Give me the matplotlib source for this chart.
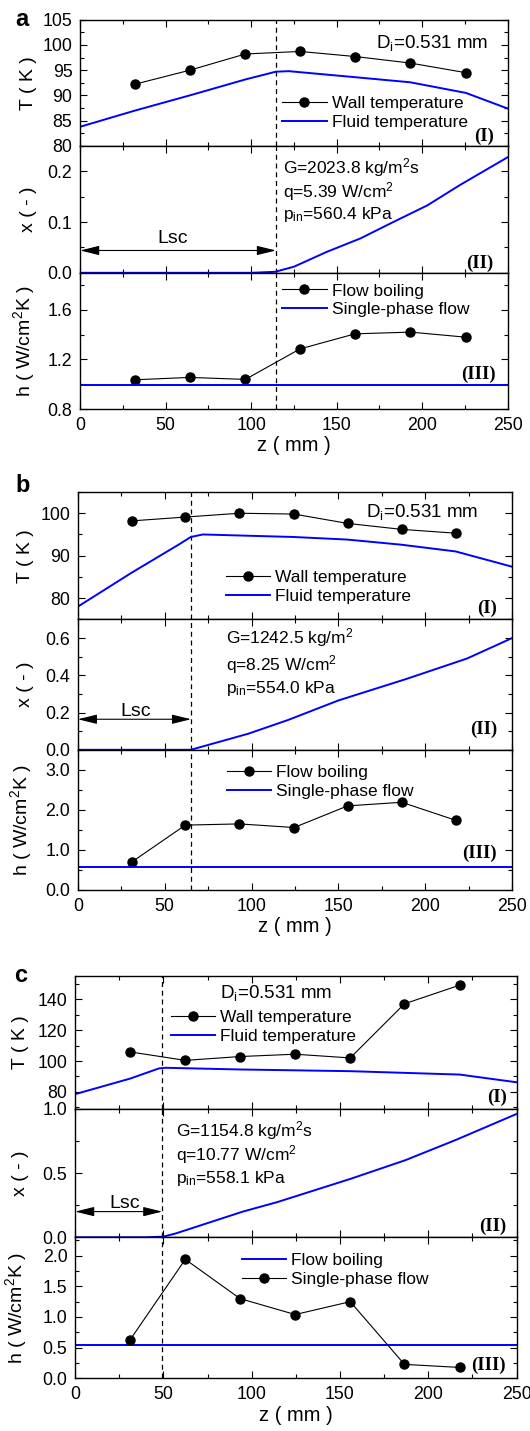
import numpy as np
import matplotlib
matplotlib.use('Agg')
import matplotlib.pyplot as plt
from matplotlib.ticker import MultipleLocator

plt.rcParams['font.family'] = ['Liberation Sans', 'DejaVu Sans']
plt.rcParams['mathtext.fontset'] = 'custom'
plt.rcParams['mathtext.rm'] = 'Liberation Sans'
plt.rcParams['mathtext.it'] = 'Liberation Sans:italic'
plt.rcParams['mathtext.default'] = 'regular'

# ---- case a ----
z_a = [31.8, 64.2, 96.6, 128.5, 160.7, 193.1, 225.5]
tw_a = [92.2, 95.0, 98.2, 98.7, 97.7, 96.4, 94.5]
zf_a = [0, 32, 64, 97, 114.5, 122, 161, 193, 225.5, 250]
tf_a = [83.8, 87.0, 90.0, 93.2, 94.7, 94.8, 93.6, 92.6, 90.5, 87.4]
zx_a = [0, 100, 114, 125, 144, 164, 183, 203, 222, 250]
x_a = [0, 0, 0.002, 0.012, 0.041, 0.068, 0.100, 0.133, 0.173, 0.228]
h_a = [1.036, 1.055, 1.039, 1.285, 1.407, 1.421, 1.380]
hsp_a = 0.995
lsc_a = 114.5

# ---- case b ----
z_b = [31.1, 61.9, 93.0, 124.5, 155.3, 186.4, 217.5]
tw_b = [98.2, 99.1, 100.0, 99.8, 97.6, 96.2, 95.3]
zf_b = [0, 31, 58, 65, 72, 124.5, 155, 186, 217.5, 250]
tf_b = [78.0, 86.0, 92.6, 94.4, 95.0, 94.4, 93.8, 92.6, 91.0, 87.4]
zx_b = [0, 65, 98, 121, 150, 189, 224, 250]
x_b = [0, 0, 0.086, 0.16, 0.265, 0.38, 0.49, 0.6]
h_b = [0.70, 1.62, 1.65, 1.56, 2.10, 2.19, 1.74]
hsp_b = 0.573
lsc_b = 65.2

# ---- case c ----
z_c = [31.2, 62.4, 93.4, 124.6, 155.8, 186.5, 217.8]
tw_c = [105.9, 100.4, 102.9, 104.4, 102.0, 137.1, 149.2]
zf_c = [0, 31.2, 47.5, 51.3, 93.4, 155.8, 217.8, 250]
tf_c = [78.5, 88.6, 95.2, 95.6, 94.5, 93.4, 91.2, 86.2]
zx_c = [0, 40, 50, 57, 95, 114.5, 156, 187, 216, 250]
x_c = [0, 0, 0.005, 0.03, 0.20, 0.274, 0.455, 0.60, 0.76, 0.96]
h_c = [0.63, 1.94, 1.30, 1.04, 1.25, 0.227, 0.177]
hsp_c = 0.536
lsc_c = 49.4

W, H = 530, 1431
FS = 12.8
TXT = 12.5
BLUE = '#0000ff'


def make_axes(fig, left, right, ys, ylab_x):
    # ys: pixel rows of top, I/II, II/III, bottom
    axs = []
    for top, bot in zip(ys[:-1], ys[1:]):
        ax = fig.add_axes([left / W, 1 - bot / H, (right - left) / W, (bot - top) / H])
        ax.set_xlim(0, 250)
        ax.xaxis.set_major_locator(MultipleLocator(50))
        ax.xaxis.set_minor_locator(MultipleLocator(25))
        ax.tick_params(which='both', direction='in', top=True, right=True,
                       labelsize=FS, width=0.8, pad=5.5)
        ax.tick_params(which='major', length=5)
        ax.tick_params(which='minor', length=2.8)
        for s in ax.spines.values():
            s.set_linewidth(1.0)
        axs.append(ax)
    for ax in axs[:-1]:
        ax.tick_params(labelbottom=False)
    axs[-1].set_xlabel('z ( mm )', fontsize=14.5, labelpad=2)
    axs[0].set_ylabel('T ( K )', fontsize=14)
    axs[1].set_ylabel('x ( - )', fontsize=14)
    axs[2].set_ylabel('h ( W/cm$^2$K )', fontsize=14)
    for ax in axs:
        ax.yaxis.set_label_coords(ylab_x, 0.5)
    return axs


def roman(ax, s, x, y):
    ax.text(x, y, s, transform=ax.transAxes, ha='right', va='center',
            fontsize=13.5, fontweight='bold', family='Liberation Serif')


def leg(ax, z0, y0):
    ax.legend(loc='center left', bbox_to_anchor=(z0, y0), bbox_transform=ax.transData,
              frameon=False, fontsize=TXT, borderpad=0, borderaxespad=0,
              handlelength=2.55, handletextpad=0.3, labelspacing=0.22, numpoints=1)


def lsc_arrow(ax, lsc, ya, yt, zt):
    ax.annotate('', xy=(0, ya), xytext=(lsc, ya),
                arrowprops=dict(arrowstyle='<|-|>,head_length=0.9,head_width=0.22',
                                color='black', lw=0.8, shrinkA=0, shrinkB=0,
                                mutation_scale=13))
    ax.text(zt, yt, 'Lsc', ha='center', va='center', fontsize=14)


def dashed(axs, lsc):
    for ax in axs:
        ax.axvline(lsc, color='black', lw=0.9, ls=(0, (4, 3)))


def wall(ax, z, t, label):
    ax.plot(z, t, color='black', lw=0.8, marker='o', ms=6.5, label=label)


def line(ax, z, y, label=None):
    ax.plot(z, y, color=BLUE, lw=1.4, label=label)


def params(ax, zt, ys, lines, ha='left'):
    for y, s in zip(ys, lines):
        ax.text(zt, y, s, ha=ha, va='center', fontsize=TXT)


def case_a(fig):
    a1, a2, a3 = make_axes(fig, 80.1, 507.8, [19.6, 146.0, 272.8, 409.0], -0.1)
    dashed([a1, a2, a3], lsc_a)

    wall(a1, z_a, tw_a, 'Wall temperature')
    line(a1, zf_a, tf_a, 'Fluid temperature')
    a1.set_ylim(80, 105)
    a1.yaxis.set_major_locator(MultipleLocator(5))
    a1.yaxis.set_minor_locator(MultipleLocator(2.5))
    leg(a1, 118.2, 86.5)
    a1.text(238.7, 100.3, 'D$_{i}$=0.531 mm', ha='right', va='center', fontsize=13.5)
    roman(a1, '(I)', 0.968, 0.075)

    line(a2, zx_a, x_a)
    a2.set_ylim(0, 0.25)
    a2.yaxis.set_major_locator(MultipleLocator(0.1))
    a2.yaxis.set_minor_locator(MultipleLocator(0.05))
    a2.yaxis.set_major_formatter('{x:.1f}')
    params(a2, 118.8, [0.207, 0.160, 0.115],
           ['G=2023.8 kg/m$^2$s', 'q=5.39 W/cm$^2$', 'p$_{in}$=560.4 kPa'])
    lsc_arrow(a2, lsc_a, 0.044, 0.067, 54)
    roman(a2, '(II)', 0.966, 0.078)

    wall(a3, z_a, h_a, 'Flow boiling')
    a3.axhline(hsp_a, color=BLUE, lw=1.4, label='Single-phase flow')
    a3.set_ylim(0.8, 1.9)
    a3.yaxis.set_major_locator(MultipleLocator(0.4))
    a3.yaxis.set_minor_locator(MultipleLocator(0.2))
    leg(a3, 118.2, 1.677)
    roman(a3, '(III)', 0.971, 0.255)

    fig.text(22 / W, 1 - 19 / H, 'a', fontsize=17, fontweight='bold', ha='center', va='center')


def case_b(fig):
    b1, b2, b3 = make_axes(fig, 77.8, 512.2, [492.0, 619.4, 749.8, 890.0], -0.1)
    dashed([b1, b2, b3], lsc_b)

    wall(b1, z_b, tw_b, 'Wall temperature')
    line(b1, zf_b, tf_b, 'Fluid temperature')
    b1.set_ylim(75, 105)
    b1.yaxis.set_major_locator(MultipleLocator(10))
    b1.yaxis.set_minor_locator(MultipleLocator(5))
    leg(b1, 85.2, 82.7)
    b1.text(230.5, 100.2, 'D$_{i}$=0.531 mm', ha='right', va='center', fontsize=13.5)
    roman(b1, '(I)', 0.965, 0.085)

    line(b2, zx_b, x_b)
    b2.set_ylim(0, 0.7)
    b2.yaxis.set_major_locator(MultipleLocator(0.2))
    b2.yaxis.set_minor_locator(MultipleLocator(0.1))
    b2.yaxis.set_major_formatter('{x:.1f}')
    params(b2, 85.2, [0.6, 0.456, 0.331],
           ['G=1242.5 kg/m$^2$', 'q=8.25 W/cm$^2$', 'p$_{in}$=554.0 kPa'])
    lsc_arrow(b2, lsc_b, 0.164, 0.205, 33)
    roman(b2, '(II)', 0.965, 0.16)

    wall(b3, z_b, h_b, 'Flow boiling')
    b3.axhline(hsp_b, color=BLUE, lw=1.4, label='Single-phase flow')
    b3.set_ylim(0, 3.5)
    b3.yaxis.set_major_locator(MultipleLocator(1.0))
    b3.yaxis.set_minor_locator(MultipleLocator(0.5))
    b3.yaxis.set_major_formatter('{x:.1f}')
    leg(b3, 85.6, 2.69)
    roman(b3, '(III)', 0.965, 0.26)

    fig.text(23 / W, 1 - 486 / H, 'b', fontsize=17, fontweight='bold', ha='center', va='center')


def case_c(fig):
    c1, c2, c3 = make_axes(fig, 75.1, 516.6, [976.2, 1108.8, 1237.3, 1378.3], -0.105)
    dashed([c1, c2, c3], lsc_c)

    wall(c1, z_c, tw_c, 'Wall temperature')
    line(c1, zf_c, tf_c, 'Fluid temperature')
    c1.set_ylim(69, 155)
    c1.yaxis.set_major_locator(MultipleLocator(20))
    c1.yaxis.set_minor_locator(MultipleLocator(10))
    leg(c1, 54.2, 122.3)
    c1.text(81.9, 144, 'D$_{i}$=0.531 mm', ha='left', va='center', fontsize=13.5)
    roman(c1, '(I)', 0.979, 0.09)

    line(c2, zx_c, x_c)
    c2.set_ylim(0, 1.0)
    c2.yaxis.set_major_locator(MultipleLocator(0.5))
    c2.yaxis.set_minor_locator(MultipleLocator(0.25))
    c2.yaxis.set_major_formatter('{x:.1f}')
    params(c2, 57, [0.827, 0.641, 0.455],
           ['G=1154.8 kg/m$^2$s', 'q=10.77 W/cm$^2$', 'p$_{in}$=558.1 kPa'])
    lsc_arrow(c2, lsc_c, 0.2, 0.266, 28.3)
    roman(c2, '(II)', 0.976, 0.084)

    line(c3, [0, 250], [hsp_c, hsp_c], 'Flow boiling')
    wall(c3, z_c, h_c, 'Single-phase flow')
    c3.set_ylim(0, 2.3)
    c3.yaxis.set_major_locator(MultipleLocator(0.5))
    c3.yaxis.set_minor_locator(MultipleLocator(0.25))
    c3.yaxis.set_major_formatter('{x:.1f}')
    leg(c3, 94.4, 1.765)
    roman(c3, '(III)', 0.975, 0.089)

    fig.text(21 / W, 1 - 975 / H, 'c', fontsize=17, fontweight='bold', ha='center', va='center')


def main():
    fig = plt.figure(figsize=(W / 100, H / 100), dpi=100)
    case_a(fig)
    case_b(fig)
    case_c(fig)
    fig.savefig('out.png', dpi=100, facecolor='white')


if __name__ == '__main__':
    main()
